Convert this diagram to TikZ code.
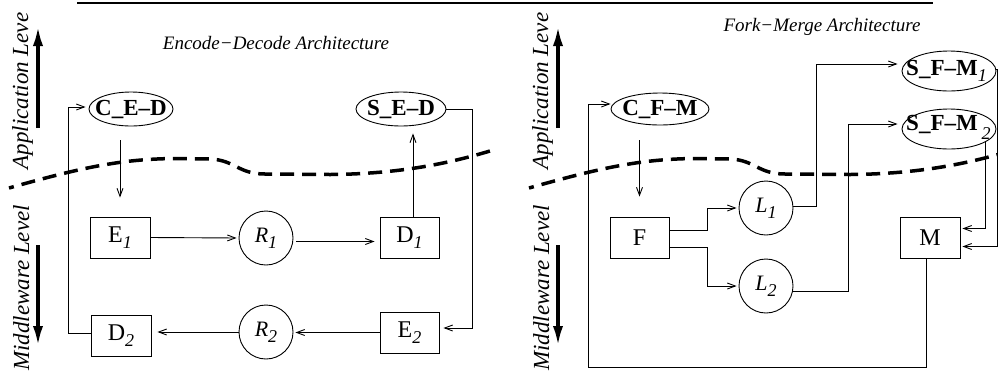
\documentclass[tikz,border=0pt]{standalone}
\usepackage{fontspec}
\setmainfont{Liberation Serif}
\usetikzlibrary{arrows.meta,shapes.geometric,calc}

\newcommand{\fs}[1]{\fontsize{#1}{#1}\selectfont}
\newcommand{\lowsub}[1]{\raisebox{-6pt}{\fs{18}\itshape #1}}

\begin{document}
\begin{tikzpicture}[x=1pt,y=-1pt,
  every node/.style={inner sep=0pt},
  box/.style={draw, line width=0.9pt, minimum width=60pt, minimum height=41pt, font=\fs{24}},
  chan/.style={draw, circle, line width=0.9pt, minimum size=54pt, font=\fs{22}\itshape},
  ell/.style={draw, ellipse, line width=0.9pt},
  elltxt/.style={font=\fs{23}\bfseries},
  conn/.style={line width=0.9pt, -{Straight Barb[length=8pt,width=6pt]}},
  level/.style={font=\fs{23}\itshape, rotate=90, anchor=base},
  levelarrow/.style={line width=4pt, -{Latex[length=22pt,width=10pt]}},
  boundary/.style={line width=3.5pt, dash pattern=on 14pt off 8pt, dash phase=9pt},
  title/.style={font=\fs{19}\itshape}]

\useasboundingbox (0,0) rectangle (998,376);

% rule across the top
\coordinate (ruleL) at (77,3);
\coordinate (ruleR) at (933,3);
\draw[line width=1.2pt] (ruleL) -- (ruleR);

% level labels, arrows and the boundary curve, once per architecture
\foreach \dx/\tag in {0/a,520/b}{
  \begin{scope}[xshift=\dx pt]
    \node[level] (app\tag) at (28,91) {Application Leve};
    \node[level] (mid\tag) at (29,288) {Middleware Level};
    \coordinate (upS\tag) at (38,128);
    \coordinate (upE\tag) at (38,24);
    \coordinate (dnS\tag) at (38,245);
    \coordinate (dnE\tag) at (38,348);
    \draw[levelarrow] (upS\tag) -- (upE\tag);
    \draw[levelarrow] (dnS\tag) -- (dnE\tag);
    \draw[boundary] (9,188) .. controls (80,168) and (120,159) .. (175,158.5)
      -- (210,159) .. controls (235,160) and (238,174) .. (265,174)
      -- (330,174.5) .. controls (400,174) and (450,163) .. (490,151);
  \end{scope}
}

% ---------------- Encode-Decode ----------------
\node[title] (edtitle) at (276,43) {Encode−Decode Architecture};

\node[ell, minimum width=84pt, minimum height=34pt] (ced) at (131,109) {};
\node[elltxt] (cedt) at (ced) {C\_E--D};
\node[ell, minimum width=90pt, minimum height=34pt] (sed) at (401,109) {};
\node[elltxt] (sedt) at (sed) {S\_E--D};

\node[box] (E1) at (120,237.5) {E\lowsub{1}};
\node[chan] (R1) at (266,238) {R\lowsub{1}};
\node[box, minimum width=59pt] (D1) at (409.5,237.5) {D\lowsub{1}};
\node[box, minimum width=59pt] (E2) at (409.5,332.5) {E\lowsub{2}};
\node[chan] (R2) at (266,332) {R\lowsub{2}};
\node[box] (D2) at (121,335.5) {D\lowsub{2}};

\draw[conn, shorten <=14pt, shorten >=19pt] (E1.north |- ced.south) -- (E1.north);
\draw[conn, shorten >=2pt] (E1.east) -- (R1.west);
\draw[conn, shorten <=3pt, shorten >=5pt] ([yshift=-3.5pt]R1.east) -- ([yshift=-3.5pt]R1.east -| D1.west);
\draw[conn, shorten >=7pt] ([xshift=3.5pt]D1.north) -- ([xshift=3.5pt]D1.north |- sed.south);
\draw[conn, shorten >=4pt] (sed.east) -- ++(26,0) |- ([yshift=4.5pt]E2.east);
\draw[conn, shorten >=2pt] (E2.west) -- (E2.west -| R2.east);
\draw[conn, shorten >=6pt] (R2.west) -- (R2.west -| D2.east);
\draw[conn, shorten >=3pt] ([yshift=2.5pt]D2.west) -- ++(-22,0) |- ([yshift=2pt]ced.west);

% ---------------- Fork-Merge ----------------
\node[title] (fmtitle) at (822,27) {Fork−Merge Architecture};

\node[ell, minimum width=98pt, minimum height=32pt] (cfm) at (660,109) {};
\node[elltxt] (cfmt) at (cfm) {C\_F--M};
\node[ell, minimum width=94pt, minimum height=40pt] (sfm1) at (949,71) {};
\node[elltxt, anchor=west] (sfm1t) at (906,71) {S\_F--M\lowsub{\mdseries 1}};
\node[ell, minimum width=94pt, minimum height=40pt] (sfm2) at (949,129) {};
\node[elltxt, anchor=west] (sfm2t) at (906,127) {S\_F--M\,\raisebox{-3pt}{\lowsub{\mdseries 2}}};

\node[box, minimum width=59pt] (F) at (639.5,237.5) {F};
\node[chan] (L1) at (766,208) {L\lowsub{1}};
\node[chan] (L2) at (766,286) {L\lowsub{2}};
\node[box] (M) at (930,237.5) {M};

\coordinate (loopBL) at (588,367);

\draw[conn, shorten <=15pt, shorten >=20pt] (F.north |- cfm.south) -- (F.north);
\draw[conn, shorten >=2pt] ([yshift=7.5pt]F.east) -- ++(38,0) |- (L1.west);
\draw[conn, shorten >=2pt] ([yshift=-9.5pt]F.east) -- ++(38,0) |- (L2.west);
\draw[conn, shorten >=4pt] ([yshift=2pt]L1.east) -- ++(23,0) |- ([yshift=7pt]sfm1.west);
\draw[conn, shorten >=4pt] ([yshift=-5pt]L2.east) -- ++(55,0) |- ([yshift=5pt]sfm2.west);
\draw[conn, shorten >=2pt] ([yshift=2pt]sfm1.east) -- ++(1,0) |- ([yshift=-9pt]M.east);
\draw[conn, shorten >=2pt] (sfm2.-20) |- ([yshift=9pt]M.east);
\draw[conn] ([xshift=-4pt]M.south) |- (loopBL) |- ([yshift=5pt]cfm.west);

\end{tikzpicture}
\end{document}
